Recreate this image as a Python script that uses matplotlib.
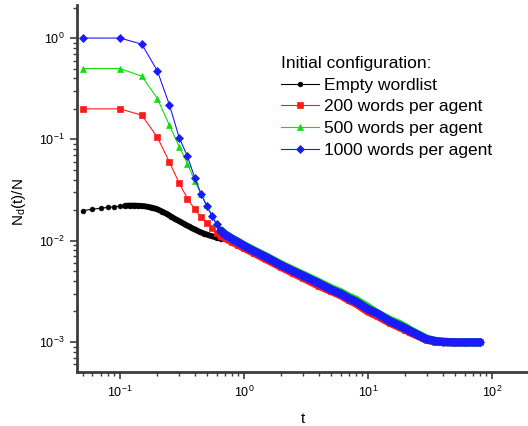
import matplotlib
matplotlib.use('Agg')
import matplotlib.pyplot as plt
import numpy as np
from matplotlib.ticker import LogLocator, NullFormatter

plt.rcParams['font.family'] = ['Liberation Sans', 'DejaVu Sans']
plt.rcParams['mathtext.fontset'] = 'custom'
plt.rcParams['mathtext.rm'] = 'Liberation Sans'
plt.rcParams['mathtext.it'] = 'Liberation Sans:italic'

# ---------------- data ----------------
t_color = [0.05, 0.10, 0.15, 0.20, 0.25, 0.30, 0.35, 0.40, 0.45, 0.50, 0.55, 0.60,
           0.65, 0.70, 0.80, 0.90, 1.0, 1.2, 1.5, 2.0, 2.5, 3.0, 4.0, 5.0, 6.0,
           7.0, 8.0, 10, 12, 15, 18, 20, 22, 25, 28, 30, 35, 40, 50, 60, 70, 80]

y_1000 = [1.0, 1.0, 0.87, 0.475, 0.22, 0.104, 0.068, 0.042, 0.029, 0.022, 0.0175, 0.0145,
          0.0125, 0.0115, 0.0104, 0.0096, 0.0089, 0.0079, 0.0069, 0.0057, 0.0050, 0.0045,
          0.0038, 0.0033, 0.0030, 0.0027, 0.0025, 0.0021, 0.0019, 0.0016, 0.00145,
          0.00136, 0.00128, 0.00118, 0.00110, 0.00106, 0.00102, 0.00100, 0.00099,
          0.00099, 0.00099, 0.00099]

y_500 = [0.5, 0.5, 0.42, 0.253, 0.138, 0.085, 0.0575, 0.039, 0.029, 0.0225, 0.0180, 0.0148,
         0.0126, 0.0116, 0.0105, 0.0097, 0.0090, 0.0080, 0.0070, 0.0058, 0.0051, 0.0046,
         0.0039, 0.0034, 0.0031, 0.0028, 0.0026, 0.0022, 0.0019, 0.00165, 0.0015,
         0.0014, 0.0013, 0.0012, 0.00112, 0.00107, 0.00102, 0.00100, 0.00099,
         0.00099, 0.00099, 0.00099]

y_200 = [0.2, 0.2, 0.173, 0.105, 0.06, 0.037, 0.026, 0.0205, 0.017, 0.015, 0.0132, 0.0120,
         0.0112, 0.0107, 0.0098, 0.0091, 0.0085, 0.0076, 0.0066, 0.0055, 0.0048, 0.0043,
         0.0036, 0.0032, 0.0029, 0.0026, 0.0024, 0.0020, 0.0018, 0.00155, 0.0014,
         0.00132, 0.00124, 0.00116, 0.00109, 0.00105, 0.00101, 0.00100, 0.00099,
         0.00099, 0.00099, 0.00099]

t_empty = [0.05, 0.06, 0.07, 0.08, 0.09, 0.10, 0.11, 0.12, 0.13, 0.14, 0.15, 0.16, 0.17,
           0.18, 0.19, 0.20, 0.22, 0.24, 0.26, 0.28, 0.30, 0.32, 0.34, 0.36, 0.38, 0.40,
           0.44, 0.48, 0.52, 0.56, 0.60, 0.65, 0.70, 0.80, 0.90, 1.0, 1.2, 1.5, 2.0, 2.5,
           3.0, 4.0, 5.0, 6.0, 7.0, 8.0, 10, 12, 15, 18, 20, 22, 25, 28, 30, 35, 40, 50,
           60, 70, 80]

y_empty = [0.0198, 0.0204, 0.0209, 0.0213, 0.0216, 0.0219, 0.0221, 0.0222, 0.0222, 0.0221,
           0.0220, 0.0218, 0.0215, 0.0212, 0.0208, 0.0204, 0.0193, 0.0183, 0.0172, 0.0163,
           0.0156, 0.0149, 0.0143, 0.0138, 0.0133, 0.0129, 0.0122, 0.0117, 0.0113, 0.0110,
           0.0107, 0.0105, 0.0104, 0.0098, 0.0091, 0.0085, 0.0076, 0.0066, 0.0055, 0.0048,
           0.0043, 0.0036, 0.0032, 0.0029, 0.0026, 0.0024, 0.0020, 0.0018, 0.00155, 0.0014,
           0.00132, 0.00124, 0.00116, 0.00109, 0.00105, 0.00101, 0.00100, 0.00099,
           0.00099, 0.00099, 0.00099]

labels = ['Empty wordlist', '200 words per agent', '500 words per agent',
          '1000 words per agent']
legend_title = 'Initial configuration:'

# ---------------- figure ----------------
fig = plt.figure(figsize=(5.28, 4.26), dpi=100)
ax = fig.add_axes([77/528, 1-372/426, 1-77/528, (372-5)/426])
ax.set_xscale('log')
ax.set_yscale('log')

series = [
    (t_empty, y_empty, 'black', 'o', 3.4, 0.11),
    (t_color, y_200, '#ff1a1a', 's', 4.2, 0.62),
    (t_color, y_500, '#11dd11', '^', 5.0, 0.62),
    (t_color, y_1000, '#1a1aff', 'D', 4.4, 0.62),
]

handles = []
for (tt, yy, col, mk, ms, tcut), lab in zip(series, labels):
    tt = np.asarray(tt, float)
    yy = np.asarray(yy, float)
    h, = ax.plot(tt, yy, '-', color=col, lw=0.8, marker=mk, ms=ms,
                 markeredgewidth=0.5, markeredgecolor=col, label=lab)
    m = tt >= tcut
    ax.plot(tt[m], yy[m], '-', color=col, lw=6.0 if col != 'black' else 4.2,
            solid_capstyle='round', solid_joinstyle='round')
    handles.append(h)

ax.set_xlim(0.045, 195)
ax.set_ylim(5.05e-4, 2.12)

for s in ['top', 'right']:
    ax.spines[s].set_visible(False)
for s in ['left', 'bottom']:
    ax.spines[s].set_linewidth(2.0)
    ax.spines[s].set_color('#3c3c3c')

ax.xaxis.set_major_locator(LogLocator(base=10, numticks=20))
ax.xaxis.set_minor_locator(LogLocator(base=10, subs=np.arange(2, 10), numticks=20))
ax.yaxis.set_major_locator(LogLocator(base=10, numticks=20))
ax.yaxis.set_minor_locator(LogLocator(base=10, subs=np.arange(2, 10), numticks=20))
ax.xaxis.set_minor_formatter(NullFormatter())
ax.yaxis.set_minor_formatter(NullFormatter())
ax.tick_params(which='major', direction='out', length=5, width=1.2, labelsize=9,
               color='#3c3c3c', pad=4)
ax.tick_params(which='minor', direction='out', length=3, width=1.0, color='#3c3c3c')

ax.set_xlabel('t', fontsize=11)
ax.set_ylabel(r'N$_\mathrm{d}$(t)/N', fontsize=11)
ax.yaxis.set_label_coords(-0.108, 0.463)
ax.xaxis.set_label_coords(0.5, -0.108)

leg = ax.legend(handles=handles, title=legend_title, loc='upper left',
                bbox_to_anchor=(281/528, 1-56/426), bbox_transform=fig.transFigure,
                frameon=False, fontsize=12.5, title_fontsize=12.5, numpoints=1,
                handlelength=2.2, handletextpad=0.3, labelspacing=0.38,
                borderpad=0.0, borderaxespad=0.0, alignment='left')

fig.savefig('out.png', dpi=100)
